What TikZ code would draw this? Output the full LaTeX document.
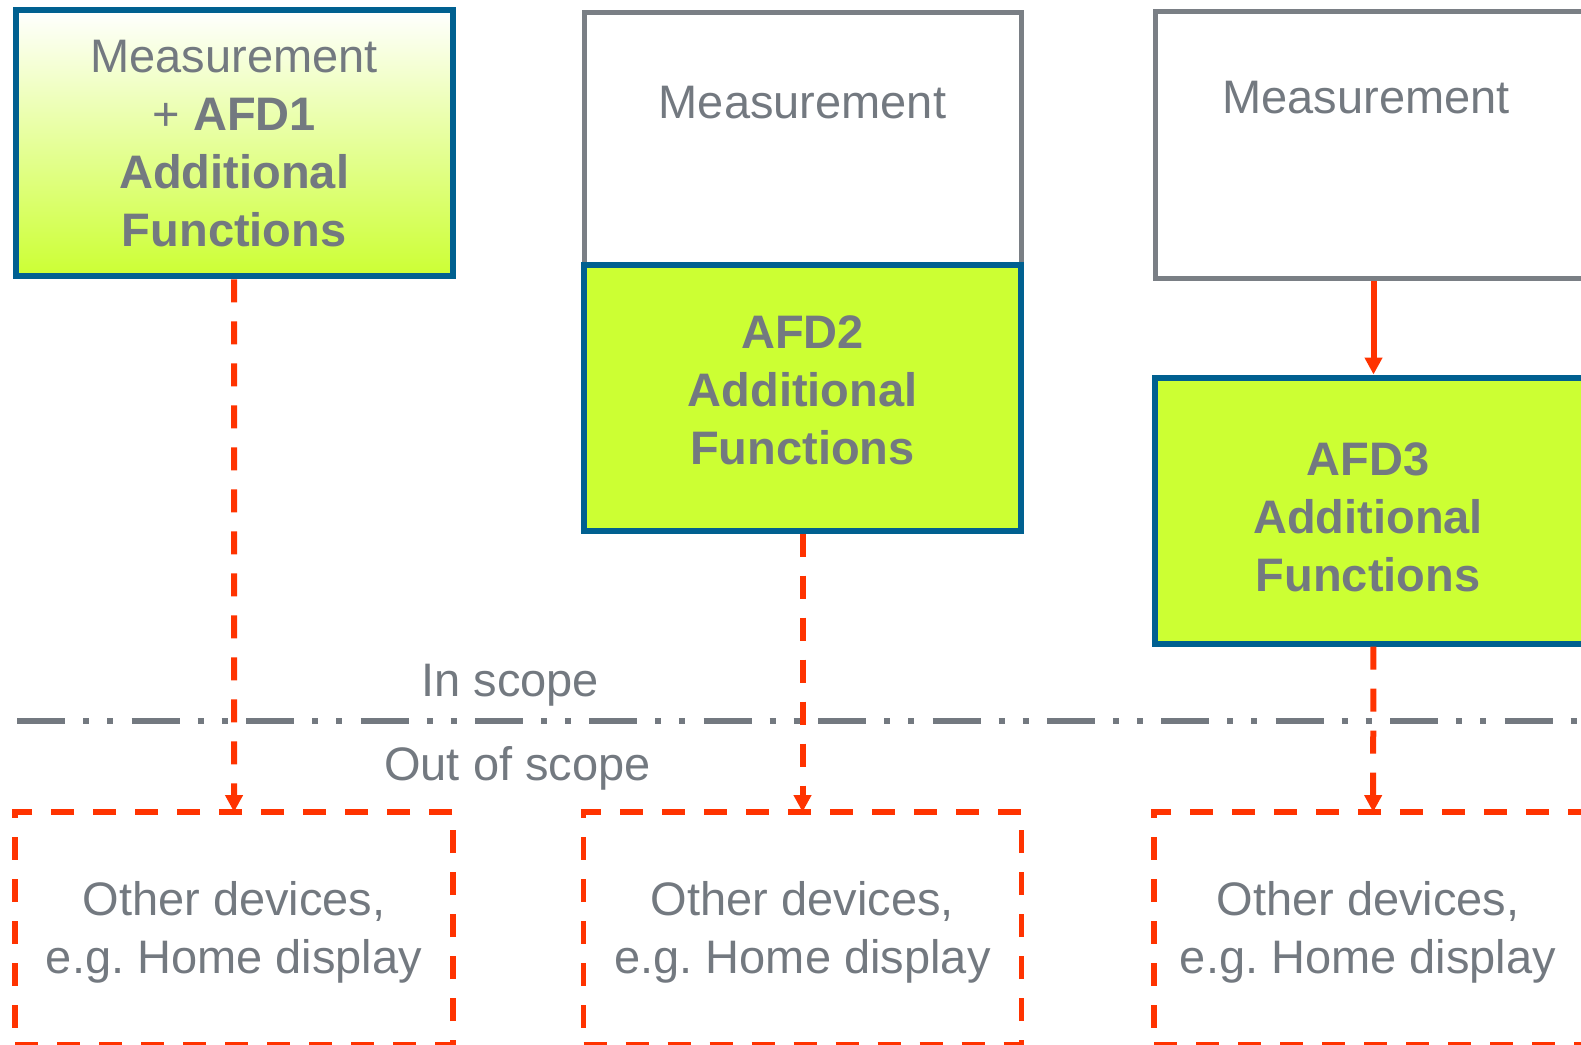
\documentclass[tikz,border=0pt]{standalone}
\usepackage{fontspec}
\setmainfont{Liberation Sans}
\usetikzlibrary{arrows.meta}
\definecolor{afdgreen}{HTML}{CCFF33}
\definecolor{afdblue}{HTML}{006090}
\definecolor{txtgray}{HTML}{737980}
\definecolor{boxgray}{HTML}{7A7F85}
\definecolor{flowred}{HTML}{FF3300}
\tikzset{
  boxfont/.style={font=\fontsize{47}{58}\selectfont, text=txtgray, align=center},
  afdbox/.style={rectangle, draw=afdblue, line width=6pt, fill=afdgreen, minimum width=437pt, minimum height=266pt, boxfont},
  measbox/.style={rectangle, draw=boxgray, line width=5pt, fill=white, minimum width=437pt, boxfont},
  otherbox/.style={rectangle, draw=flowred, line width=5.5pt, dash pattern=on 23pt off 19pt, minimum width=438pt, minimum height=233pt, outer sep=0pt, boxfont},
  flow/.style={draw=flowred, line width=6pt, -{Triangle[length=17pt,width=17pt]}},
  flowdash/.style={flow, dash pattern=on 23pt off 19pt},
  scopeline/.style={draw=txtgray, line width=6pt, dash pattern=on 48pt off 18pt on 6pt off 18pt on 6pt off 18.4pt}
}
\begin{document}
\begin{tikzpicture}[x=1pt, y=-1pt]
    \useasboundingbox (0,0) rectangle (1581,1044);
    \clip (0,0) rectangle (1581,1044);
    % in scope
    \node [afdbox, top color=white, bottom color=afdgreen] (afd1) at (234.2,143.3) {Measurement\\+ \textbf{AFD1}\\\textbf{Additional}\\\textbf{Functions}};
    \node [measbox, minimum height=252pt] (meas2) at (802.5,138.6) {};
    \node [boxfont] (meas2txt) at (802.5,103) {Measurement};
    \node [afdbox] (afd2) at (802.5,397.5) {};
    \node [boxfont] (afd2txt) at (802.5,390.5) {\textbf{AFD2}\\\textbf{Additional}\\\textbf{Functions}};
    \node [measbox, minimum height=266.7pt] (meas3) at (1373.5,145.3) {};
    \node [boxfont] (meas3txt) at (1366,98) {Measurement};
    \node [afdbox] (afd3) at (1373.5,510.5) {};
    \node [boxfont] (afd3txt) at (1368,517.5) {\textbf{AFD3}\\\textbf{Additional}\\\textbf{Functions}};
    \draw [flow] (meas3) -- (afd3);
    % scope border
    \coordinate (scopeL) at (17.3,721);
    \coordinate (scopeR) at (1600,721);
    \draw [scopeline] (scopeL) -- (scopeR);
    \node [boxfont, anchor=base] (inscope) at (510.3,696.7) {In scope};
    \node [boxfont, anchor=base] (outscope) at (517.5,780) {Out of scope};
    % out of scope
    \node [otherbox] (other1) at (234,928.5) {};
    \node [boxfont] (other1txt) at (234,932) {Other devices,\\e.g.\ Home display};
    \node [otherbox] (other2) at (802.5,928.5) {};
    \node [boxfont] (other2txt) at (802.5,932) {Other devices,\\e.g.\ Home display};
    \node [otherbox] (other3) at (1373,928.5) {};
    \node [boxfont] (other3txt) at (1368,932) {Other devices,\\e.g.\ Home display};
    \draw [flowdash] (afd1) -- (other1);
    \draw [flowdash] (afd2) -- (other2);
    \draw [flowdash] (afd3) -- (other3);
\end{tikzpicture}
\end{document}
